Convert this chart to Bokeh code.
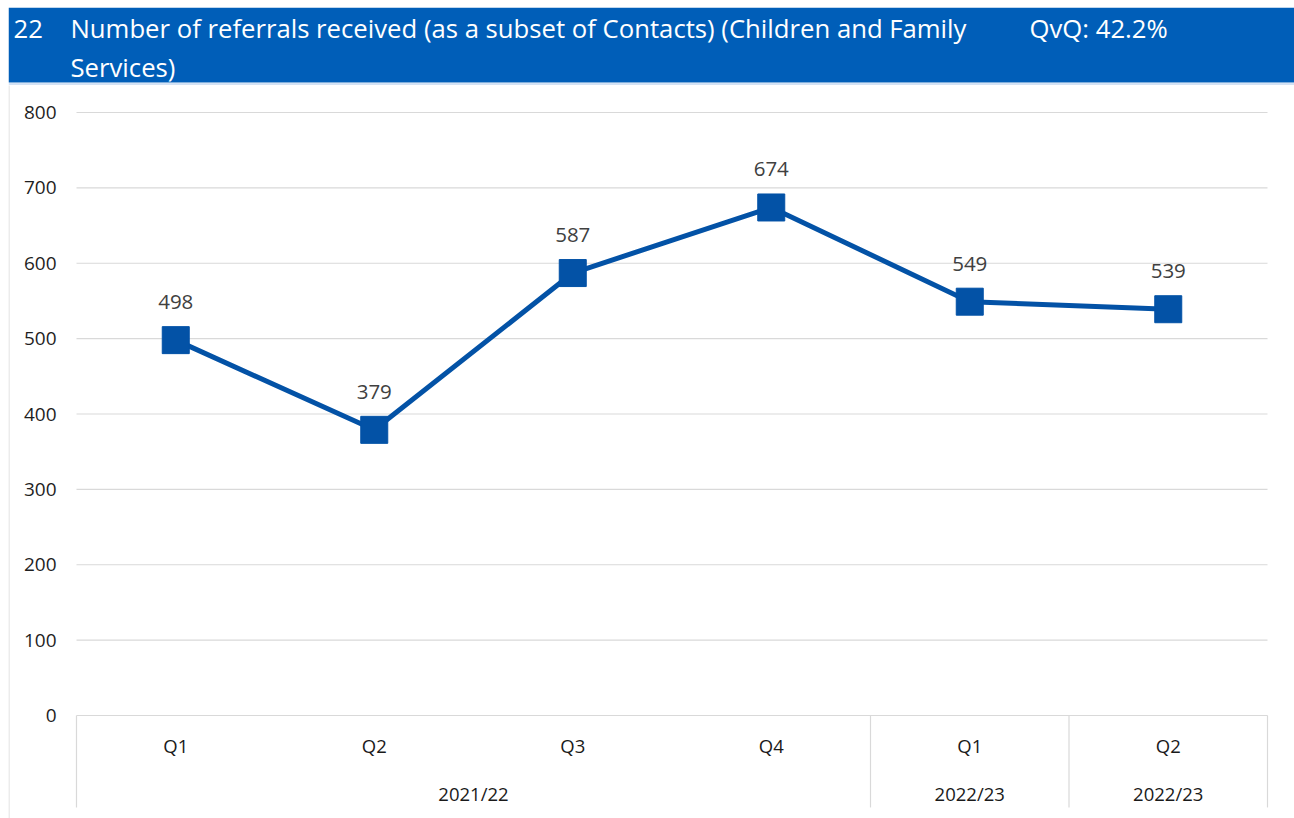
from bokeh.plotting import figure
from bokeh.models import Range1d, Label, ColumnDataSource, BoxAnnotation, Span
from bokeh.core.properties import value
from bokeh.embed import file_html
from bokeh.resources import INLINE

# ---- data ----
quarters = ["Q1", "Q2", "Q3", "Q4", "Q1", "Q2"]
referrals = [498, 379, 587, 674, 549, 539]
year_groups = ["2021/22", "2022/23", "2022/23"]
group_sizes = [4, 1, 1]
y_ticks = [0, 100, 200, 300, 400, 500, 600, 700, 800]
title_num = "22"
title_line1 = "Number of referrals received (as a subset of Contacts) (Children and Family"
title_line2 = "Services)"
qvq_text = "QvQ: 42.2%"

FONT = "Open Sans"
BANNER = "#005EB8"
LINE = "#0352A6"
GRID = "#D9D9D9"

# ---- geometry (page px) ----
W, H = 1286, 811              # figure spans page x 8..1294, y 7..818
PLOT_L, PLOT_R = 76, 1267     # plot area left/right (page px)
Y0_PX, Y800_PX = 715, 112     # page y of value 0 and 800
n = len(quarters)
ppx = (PLOT_R - PLOT_L) / n
ppy = (Y0_PX - Y800_PX) / 800.0
x_start = (8 - PLOT_L) / ppx
x_end = n + (1294 - PLOT_R) / ppx
y_end = (Y0_PX - 7) / ppy
y_start = -(818 - Y0_PX) / ppy

p = figure(width=W, height=H, output_backend="svg", toolbar_location=None,
           x_range=Range1d(x_start, x_end), y_range=Range1d(y_start, y_end),
           x_axis_location=None, y_axis_location=None, min_border=0)
p.grid.visible = False
p.outline_line_color = None
p.background_fill_color = "white"
p.border_fill_color = "white"

# banner
banner_bottom = (Y0_PX - 82) / ppy
p.add_layout(BoxAnnotation(bottom=banner_bottom, fill_color=BANNER, fill_alpha=1,
                           line_color=None, level="underlay"))
p.add_layout(Span(location=(Y0_PX - 83.5) / ppy, dimension="width",
                  line_color="#A8C5EA", line_width=1, level="underlay"))
for txt, x, y in [(title_num, 5, 790), (title_line1, 62, 790), (title_line2, 62, 751),
                  (qvq_text, 1021, 790)]:
    p.add_layout(Label(x=x, y=y, x_units="screen", y_units="screen", text=txt,
                       text_font=FONT, text_font_size="25.7px", text_color="white",
                       text_baseline="middle"))

# chart area left border
p.segment(x0=[x_start + 0.5 / ppx], x1=[x_start + 0.5 / ppx],
          y0=[(Y0_PX - 85) / ppy], y1=[y_start], line_color=GRID, line_width=1)

# gridlines
p.segment(x0=[0] * len(y_ticks), x1=[n] * len(y_ticks), y0=y_ticks, y1=y_ticks,
          line_color=GRID, line_width=1.2)
# y tick labels
p.text(x=[0] * len(y_ticks), y=y_ticks, text=[str(t) for t in y_ticks], x_offset=-20,
       text_font=value(FONT), text_font_size="19px", text_color="#1f1f1f",
       text_align="right", text_baseline="middle")

# category separators
bounds = [0]
for s in group_sizes:
    bounds.append(bounds[-1] + s)
p.segment(x0=bounds, x1=bounds, y0=[0] * len(bounds), y1=[-122] * len(bounds),
          line_color=GRID, line_width=1.2)

xs = [i + 0.5 for i in range(n)]
# quarter labels
p.text(x=xs, y=[-40] * n, text=quarters, text_font=value(FONT), text_font_size="18.5px",
       text_color="#1a1a1a", text_align="center", text_baseline="middle")
# year labels
centers = [(bounds[i] + bounds[i + 1]) / 2 for i in range(len(group_sizes))]
p.text(x=centers, y=[-104] * len(centers), text=year_groups, text_font=value(FONT),
       text_font_size="18.5px", text_color="#1a1a1a", text_align="center", text_baseline="middle")

# series
src = ColumnDataSource(dict(x=xs, y=referrals, lbl=[str(v) for v in referrals]))
p.line("x", "y", source=src, line_color=LINE, line_width=5)
p.scatter("x", "y", source=src, marker="square", size=27, fill_color=LINE, line_color=LINE)
p.text("x", "y", text="lbl", source=src, y_offset=-38, text_font=value(FONT),
       text_font_size="20.5px", text_color="#404040", text_align="center", text_baseline="middle")

p.margin = (7, 0, 0, 8)
open("out.html", "w").write(file_html(p, INLINE))
